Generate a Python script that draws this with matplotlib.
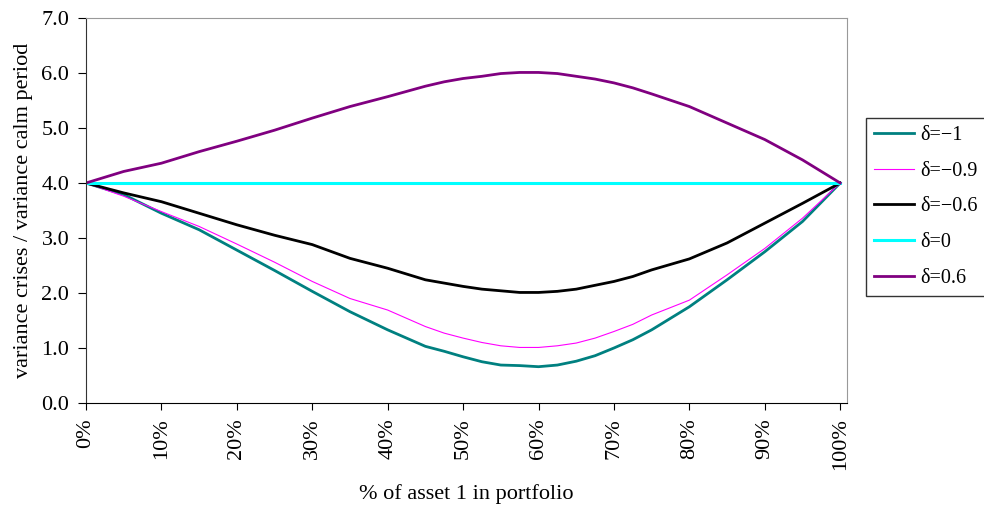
import matplotlib
matplotlib.use('Agg')
import matplotlib.pyplot as plt
from matplotlib.ticker import FuncFormatter

plt.rcParams['font.family'] = ['Liberation Serif', 'DejaVu Serif']
plt.rcParams['font.size'] = 16

# % of asset 1 in portfolio
share = [0, 5, 10, 15, 20, 25, 30, 35, 40, 45, 47.5, 50, 52.5,
         55, 57.5, 60, 62.5, 65, 67.5, 70, 72.5, 75, 80, 85, 90, 95, 100]

# variance crises / variance calm period
d_m1 = [4.0, 3.79, 3.45, 3.15, 2.78, 2.41, 2.03, 1.66, 1.33, 1.03, 0.94, 0.84, 0.75,
        0.69, 0.68, 0.66, 0.69, 0.76, 0.86, 1.00, 1.15, 1.33, 1.75, 2.24, 2.75, 3.30, 4.0]
d_m09 = [4.0, 3.76, 3.48, 3.21, 2.89, 2.56, 2.21, 1.90, 1.69, 1.39, 1.27, 1.18, 1.10,
         1.04, 1.01, 1.01, 1.04, 1.09, 1.18, 1.30, 1.43, 1.60, 1.87, 2.33, 2.81, 3.36, 4.0]
d_m06 = [4.0, 3.82, 3.66, 3.45, 3.24, 3.05, 2.88, 2.63, 2.45, 2.24, 2.18, 2.12, 2.07,
         2.04, 2.01, 2.01, 2.03, 2.07, 2.14, 2.21, 2.30, 2.42, 2.62, 2.91, 3.27, 3.63, 4.0]
d_0 = [4.0] * len(share)
d_06 = [4.0, 4.21, 4.36, 4.57, 4.76, 4.96, 5.18, 5.39, 5.57, 5.76, 5.84, 5.90, 5.94,
        5.99, 6.01, 6.01, 5.99, 5.94, 5.89, 5.82, 5.73, 5.62, 5.39, 5.09, 4.79, 4.42, 4.0]

fig = plt.figure(figsize=(9.84, 5.07), dpi=100)
ax = fig.add_axes([86 / 984, 1 - 403 / 507, (847 - 86) / 984, (403 - 18) / 507])

ax.plot(share, d_m1, color='#008080', lw=2.0, label='δ=\u22121')
ax.plot(share, d_m09, color='#FF00FF', lw=0.8, label='δ=\u22120.9')
ax.plot(share, d_m06, color='black', lw=2.0, label='δ=\u22120.6')
ax.plot(share, d_0, color='#00FFFF', lw=2.2, label='δ=0')
ax.plot(share, d_06, color='#800080', lw=2.0, label='δ=0.6')

ax.set_xlim(0, 100.9)
ax.set_ylim(0, 7)
ax.set_xticks(range(0, 101, 10))
ax.set_yticks([0, 1, 2, 3, 4, 5, 6, 7])
ax.xaxis.set_major_formatter(FuncFormatter(lambda v, p: '%d%%' % v))
ax.yaxis.set_major_formatter(FuncFormatter(lambda v, p: '%.1f' % v))
ax.tick_params(axis='x', direction='out', length=5, pad=6, rotation=90)
ax.tick_params(axis='y', direction='out', length=6, pad=6)

ax.spines['top'].set_color('#999999')
ax.spines['right'].set_color('#999999')
ax.spines['left'].set_color('#333333')
ax.spines['bottom'].set_color('black')

ax.set_xlabel('% of asset 1 in portfolio', labelpad=10)
ax.set_ylabel('variance crises / variance calm period', labelpad=6)

leg = fig.legend(loc='upper left', bbox_to_anchor=(866 / 984, 1 - 118 / 507),
                 borderaxespad=0, frameon=True, fancybox=False, shadow=False,
                 handlelength=2.0, handletextpad=0.3, labelspacing=0.82,
                 borderpad=0.4, fontsize=14.5)
leg.get_frame().set_edgecolor('black')
leg.get_frame().set_linewidth(1.0)

fig.savefig('out.png', dpi=100)
